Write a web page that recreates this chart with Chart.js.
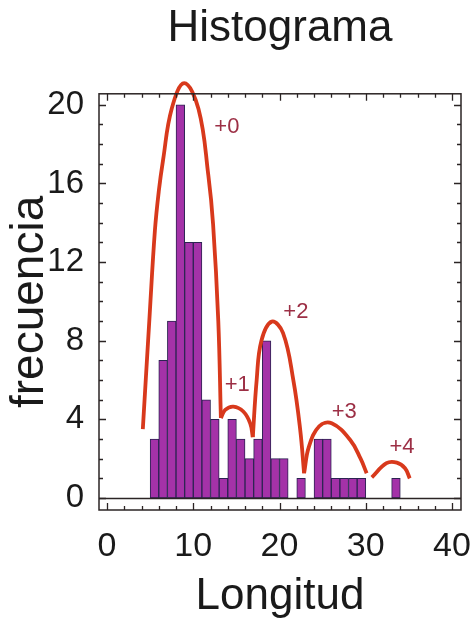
<!DOCTYPE html>
<html>
<head>
<meta charset="utf-8">
<script src="https://cdn.jsdelivr.net/npm/chart.js@4.4.0/dist/chart.umd.min.js"></script>
<style>
  body { margin: 0; background: #fff; }
</style>
</head>
<body>
<canvas id="histo" width="471" height="623"></canvas>
<script>
// histogram bins (left edge, width 1) and counts
const binStarts = [5, 6, 7, 8, 9, 10, 11, 12, 13, 14, 15, 16, 17, 18, 19, 20, 21, 22, 23, 24, 25, 26, 27, 28, 29, 30, 31, 32, 33];
const counts    = [3, 7, 9, 20, 13, 13, 5, 4, 1, 4, 3, 2, 3, 8, 2, 2, 0, 1, 0, 3, 3, 1, 1, 1, 1, 0, 0, 0, 1];

// fitted lobes
const lobe0X = [4.15, 4.9, 5.55, 6.0, 6.5, 7.5, 8.95, 10.6, 11.75, 12.3, 12.9, 13.2];
const lobe0Y = [3.5, 9.0, 13.6, 15.6, 17.2, 19.8, 21.1, 19.8, 16.4, 13.9, 9.0, 4.07];
const lobe1X = [13.2, 13.7, 14.65, 15.8, 16.6, 16.9];
const lobe1Y = [4.07, 4.48, 4.65, 4.4, 3.8, 3.1];
const lobe2X = [16.9, 17.35, 17.9, 19.1, 20.4, 21.6, 22.4, 22.85];
const lobe2Y = [3.1, 6.0, 8.0, 8.97, 8.4, 6.0, 3.46, 1.26];
const lobe3X = [22.85, 23.4, 24.6, 26.05, 28.2, 29.4, 30.1];
const lobe3Y = [1.26, 2.6, 3.65, 3.8, 2.95, 2.0, 1.26];
const lobe4X = [30.7, 32.4, 33.6, 34.55, 35.1];
const lobe4Y = [1.05, 1.77, 1.8, 1.51, 1.0];

const lobeNames  = ["+0", "+1", "+2", "+3", "+4"];
const lobeLabelX = [13.9, 15.1, 21.9, 27.5, 34.2];
const lobeLabelY = [18.85, 5.75, 9.48, 4.4, 2.6];

const xTicks = [0, 10, 20, 30, 40];
const yTicks = [0, 4, 8, 12, 16, 20];

const FONT = "'Liberation Sans', Arial, sans-serif";
const INK = "#1a1a1a";
const RED = "#d8391c";

function pts(xs, ys) {
  return xs.map((x, i) => ({ x: x, y: ys[i] }));
}

function lobe(xs, ys) {
  return {
    type: "line",
    data: pts(xs, ys),
    borderColor: RED,
    borderWidth: 3.8,
    pointRadius: 0,
    tension: 0.4,
    fill: false,
    clip: false,
    order: 1
  };
}

// box frame, inward ticks, zero line and lobe labels
const frame = {
  id: "frame",
  afterDatasetsDraw(chart) {
    const { ctx, chartArea: a, scales: { x, y } } = chart;
    ctx.save();
    ctx.strokeStyle = "#2b2424";
    ctx.lineWidth = 1.3;
    ctx.beginPath();
    for (let v = 0; v <= 40; v += 2) {
      const px = Math.round(x.getPixelForValue(v)) + 0.5;
      const len = v % 10 === 0 ? 7 : 4;
      ctx.moveTo(px, a.bottom); ctx.lineTo(px, a.bottom - len);
      ctx.moveTo(px, a.top); ctx.lineTo(px, a.top + len);
    }
    for (let v = 0; v <= 20; v += 1) {
      const py = Math.round(y.getPixelForValue(v)) + 0.5;
      const len = v % 4 === 0 ? 7 : 4;
      ctx.moveTo(a.left, py); ctx.lineTo(a.left + len, py);
      ctx.moveTo(a.right, py); ctx.lineTo(a.right - len, py);
    }
    ctx.stroke();

    ctx.lineWidth = 1.5;
    ctx.strokeRect(a.left, a.top, a.right - a.left, a.bottom - a.top);
    const y0 = Math.round(y.getPixelForValue(0)) + 0.5;
    ctx.beginPath();
    ctx.moveTo(a.left, y0);
    ctx.lineTo(a.right, y0);
    ctx.stroke();

    ctx.fillStyle = "#9c2f45";
    ctx.font = "22px " + FONT;
    ctx.textAlign = "center";
    ctx.textBaseline = "middle";
    lobeNames.forEach((t, i) => {
      ctx.fillText(t, x.getPixelForValue(lobeLabelX[i]), y.getPixelForValue(lobeLabelY[i]));
    });
    ctx.restore();
  }
};

new Chart("histo", {
  type: "bar",
  data: {
    datasets: [
      {
        type: "bar",
        data: pts(binStarts.map(b => b + 0.5), counts),
        backgroundColor: "#a432a8",
        borderColor: "#2c2352",
        borderWidth: 1,
        borderSkipped: false,
        barPercentage: 1,
        categoryPercentage: 1,
        grouped: false,
        order: 2
      },
      lobe(lobe0X, lobe0Y),
      lobe(lobe1X, lobe1Y),
      lobe(lobe2X, lobe2Y),
      lobe(lobe3X, lobe3Y),
      lobe(lobe4X, lobe4Y)
    ]
  },
  options: {
    responsive: false,
    animation: false,
    layout: { padding: { left: 0, right: 10, top: 0, bottom: 0 } },
    plugins: {
      legend: { display: false },
      tooltip: { enabled: false },
      title: {
        display: true,
        fullSize: false,
        text: "Histograma",
        color: INK,
        font: { family: FONT, size: 44, weight: "normal" },
        padding: { top: 2, bottom: 39 }
      }
    },
    scales: {
      x: {
        type: "linear",
        offset: false,
        min: -0.93,
        max: 41.04,
        grid: { display: false, offset: false },
        border: { display: false },
        afterBuildTicks: s => { s.ticks = xTicks.map(v => ({ value: v })); },
        afterFit: s => { s.height = 113; s.paddingLeft = 0; s.paddingRight = 0; },
        ticks: { color: INK, padding: 8, maxRotation: 0, font: { family: FONT, size: 34 } },
        title: {
          display: true,
          text: "Longitud",
          color: INK,
          padding: { top: 0, bottom: 0 },
          font: { family: FONT, size: 44 }
        }
      },
      y: {
        min: -0.61,
        max: 20.56,
        grid: { display: false },
        border: { display: false },
        afterBuildTicks: s => { s.ticks = yTicks.map(v => ({ value: v })); },
        afterFit: s => { s.width = 99; s.paddingTop = 0; s.paddingBottom = 0; },
        ticks: { color: INK, padding: 7, font: { family: FONT, size: 33 } },
        title: {
          display: true,
          text: "frecuencia",
          color: INK,
          padding: { top: 3, bottom: 0 },
          font: { family: FONT, size: 46 }
        }
      }
    }
  },
  plugins: [frame]
});
</script>
</body>
</html>
